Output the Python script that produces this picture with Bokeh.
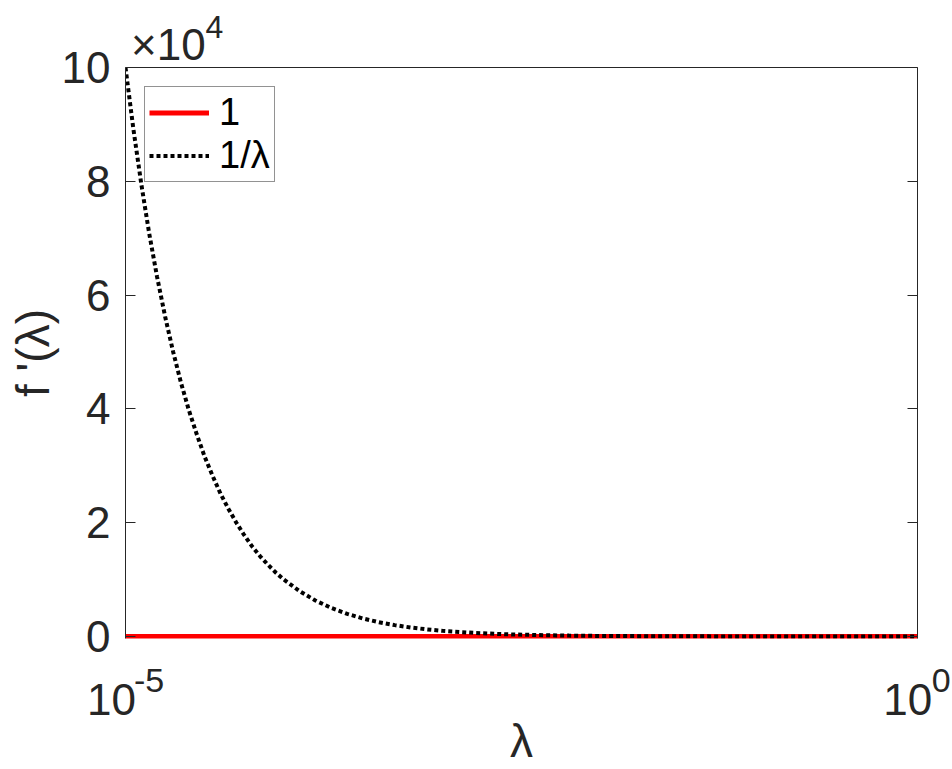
from bokeh.plotting import figure
from bokeh.models import (FixedTicker, Range1d, LinearAxis, LogAxis, Legend, LegendItem)
from bokeh.embed import file_html
from bokeh.resources import INLINE

# ---- data ----
lam_const = [1e-5, 1.0]
f_const = [1.0, 1.0]

lam_inv = [1e-5, 1.12e-5, 1.26e-5, 1.41e-5, 1.58e-5, 1.78e-5, 2e-5, 2.24e-5, 2.51e-5,
           2.82e-5, 3.16e-5, 3.55e-5, 3.98e-5, 4.47e-5, 5.01e-5, 5.62e-5, 6.31e-5,
           7.08e-5, 7.94e-5, 8.91e-5, 1e-4, 1.26e-4, 1.58e-4, 2e-4, 2.51e-4, 3.16e-4,
           3.98e-4, 5.01e-4, 6.31e-4, 7.94e-4, 1e-3, 1.58e-3, 2.51e-3, 3.98e-3,
           6.31e-3, 1e-2, 2.51e-2, 6.31e-2, 1e-1, 3.16e-1, 1.0]
f_inv = [100000, 89300, 79400, 70900, 63300, 56200, 50000, 44600, 39800,
         35500, 31600, 28200, 25100, 22400, 20000, 17800, 15800,
         14100, 12600, 11200, 10000, 7940, 6330, 5000, 3980, 3160,
         2510, 2000, 1580, 1260, 1000, 633, 398, 251,
         158, 100, 40, 16, 10, 3.2, 1]

series_names = ["1", "1/\u03bb"]
y_ticks = [0, 20000, 40000, 60000, 80000, 100000]
y_tick_labels = ["0", "2", "4", "6", "8", "10"]
x_ticks = [1e-5, 1.0]
x_tick_base = ["10", "10"]
x_tick_exp = ["-5", "0"]
y_exp_base = "\u00d710"
y_exp_pow = "4"

FONT = "Liberation Sans"
TXT = "#262626"
NB = "\u00a0"   # no-break space (used to shift the superscript pieces sideways)
HS = "\u200a"   # hair space

p = figure(width=952, height=769, x_axis_type="log",
           x_range=Range1d(1e-5, 1.0), y_range=Range1d(-351, 100000),
           output_backend="svg", toolbar_location=None, title_location=None,
           min_border_left=125, min_border_right=35,
           min_border_top=67, min_border_bottom=100)
p.background_fill_color = "white"
p.border_fill_color = "white"
p.outline_line_color = None
p.xgrid.visible = False
p.ygrid.visible = False

r1 = p.line(lam_const, f_const, line_color="#ff0000", line_width=5)
r2 = p.line(lam_inv, f_inv, line_color="black", line_width=4,
            line_dash="4 3", line_cap="butt")

def plain_axis(ax):
    ax.axis_line_color = None
    ax.major_tick_line_color = None
    ax.minor_tick_line_color = None
    ax.major_tick_in = 0
    ax.major_tick_out = 0
    ax.major_label_text_font = FONT
    ax.major_label_text_color = TXT

# bottom: exponent row (closest to the frame) then the "10" row + axis title
xa = p.xaxis[0]
xa.ticker = FixedTicker(ticks=x_ticks, minor_ticks=[])
plain_axis(xa)
xa.major_label_overrides = {t: NB * 5 + e for t, e in zip(x_ticks, x_tick_exp)}
xa.major_label_text_font_size = "34px"
xa.major_label_standoff = 22

xb = LogAxis(ticker=FixedTicker(ticks=x_ticks, minor_ticks=[]))
plain_axis(xb)
pads = [NB + NB + HS, NB + HS + HS]
xb.major_label_overrides = {t: b + pd for t, b, pd in zip(x_ticks, x_tick_base, pads)}
xb.major_label_text_font_size = "44px"
xb.major_label_standoff = -27
xb.axis_label = "\u03bb"
xb.axis_label_text_font = FONT
xb.axis_label_text_font_size = "46px"
xb.axis_label_text_font_style = "normal"
xb.axis_label_text_color = TXT
xb.axis_label_standoff = -12
p.add_layout(xb, "below")

# top: frame line + "x10" then superscript "4"
ta = LogAxis(ticker=FixedTicker(ticks=[x_ticks[0]], minor_ticks=[]))
plain_axis(ta)
ta.axis_line_color = TXT
ta.major_label_overrides = {x_ticks[0]: NB * 7 + y_exp_base}
ta.major_label_text_font_size = "44px"
ta.major_label_standoff = -1
p.add_layout(ta, "above")

tb = LogAxis(ticker=FixedTicker(ticks=[x_ticks[0]], minor_ticks=[]))
plain_axis(tb)
tb.major_label_overrides = {x_ticks[0]: NB * 20 + y_exp_pow}
tb.major_label_text_font_size = "32px"
tb.major_label_standoff = -28
p.add_layout(tb, "above")

# y axis
ya = p.yaxis[0]
ya.ticker = FixedTicker(ticks=y_ticks, minor_ticks=[])
ya.major_label_overrides = {t: l for t, l in zip(y_ticks, y_tick_labels)}
ya.major_tick_in = 10
ya.major_tick_out = 0
ya.major_tick_line_color = TXT
ya.minor_tick_line_color = None
ya.axis_line_color = TXT
ya.major_label_standoff = 15
ya.major_label_text_font = FONT
ya.major_label_text_font_size = "44px"
ya.major_label_text_color = TXT
ya.axis_label = "f '(\u03bb)"
ya.axis_label_text_font = FONT
ya.axis_label_text_font_size = "46px"
ya.axis_label_text_font_style = "normal"
ya.axis_label_text_color = TXT
ya.axis_label_standoff = 0

ra = LinearAxis(ticker=FixedTicker(ticks=y_ticks, minor_ticks=[]))
ra.major_tick_in = 10
ra.major_tick_out = 0
ra.major_tick_line_color = TXT
ra.minor_tick_line_color = None
ra.axis_line_color = TXT
ra.major_label_text_color = None
ra.major_label_standoff = 0
p.add_layout(ra, "right")

legend = Legend(items=[LegendItem(label=series_names[0], renderers=[r1]),
                       LegendItem(label=series_names[1], renderers=[r2])],
                location="top_left", margin=19, padding=4, spacing=0,
                glyph_width=60, glyph_height=43, label_height=43, label_standoff=10,
                label_text_font=FONT, label_text_font_size="38px", label_text_color="black",
                border_line_color=TXT, border_line_width=1,
                background_fill_color="white", background_fill_alpha=1.0)
p.add_layout(legend)

open("out.html", "w").write(file_html(p, INLINE))
